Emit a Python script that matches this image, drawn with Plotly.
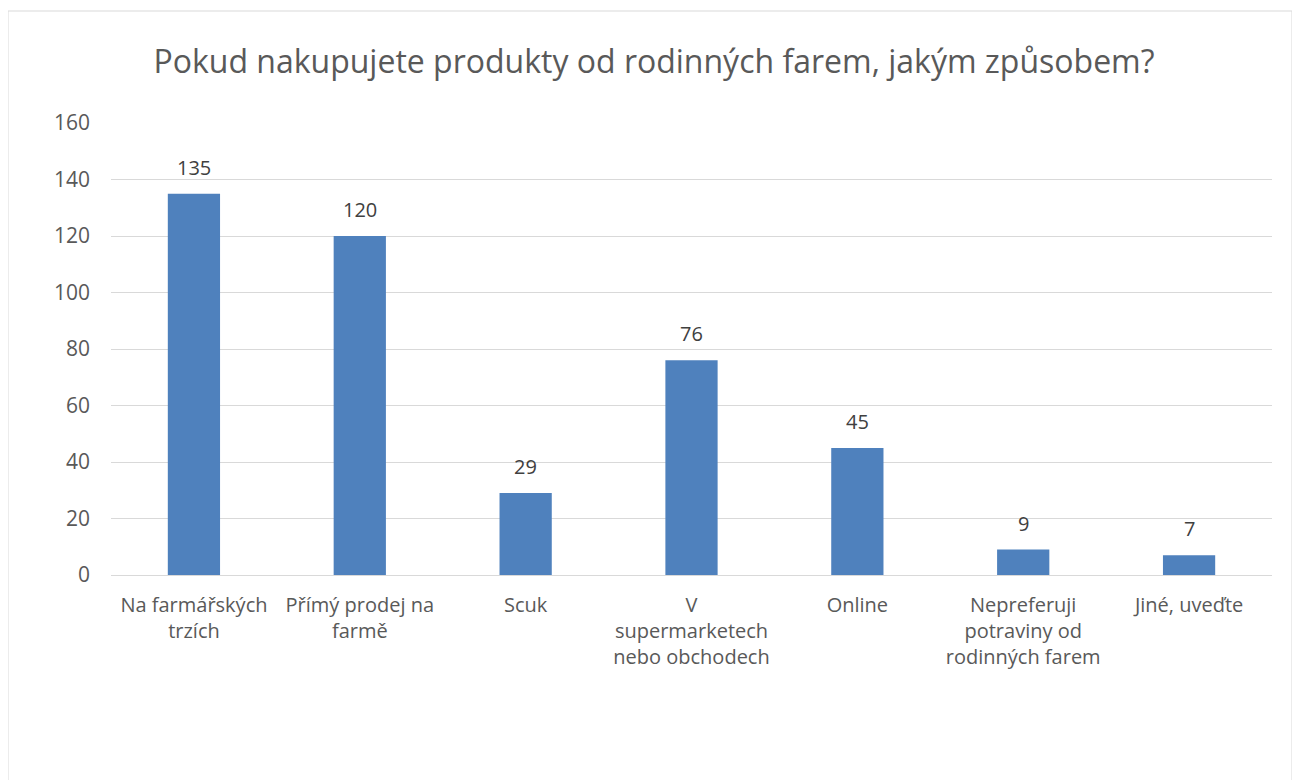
import plotly.graph_objects as go

categories = ["Na farmářských<br>trzích", "Přímý prodej na<br>farmě", "Scuk",
              "V<br>supermarketech<br>nebo obchodech", "Online",
              "Nepreferuji<br>potraviny od<br>rodinných farem", "Jiné, uveďte"]
values = [135, 120, 29, 76, 45, 9, 7]
y_ticks = [0, 20, 40, 60, 80, 100, 120, 140, 160]
title = "Pokud nakupujete produkty od rodinných farem, jakým způsobem?"

FONT = "Open Sans"
OFF = 8  # browser body margin
W, H = 1300 - OFF, 780 - OFF
L, R, T, B = 111 - OFF, 28, 123 - OFF, 205
pw, ph = W - L - R, H - T - B

fig = go.Figure(go.Bar(
    x=categories, y=values,
    marker=dict(color="#4F81BD", line=dict(width=0)),
    cliponaxis=False, hoverinfo="x+y",
))

for c, v in zip(categories, values):
    fig.add_annotation(x=c, y=v, text=str(v), showarrow=False, yanchor="bottom",
                       yshift=11, font=dict(family=FONT, size=20, color="#404040"))

fig.update_layout(
    width=W, height=H, autosize=False,
    margin=dict(l=L, r=R, t=T, b=B),
    paper_bgcolor="white", plot_bgcolor="white",
    bargap=0.685, showlegend=False,
    title=dict(text=title, x=0.5, xanchor="center", y=1 - (62 - OFF) / H, yanchor="middle",
               font=dict(family=FONT, size=32, color="#595959")),
    font=dict(family=FONT, color="#595959"),
)
fig.update_yaxes(range=[0, 160], tickvals=y_ticks, showgrid=True, gridcolor="#D9D9D9",
                 gridwidth=1, zeroline=False, showline=False, ticks="",
                 tickfont=dict(family=FONT, size=21, color="#595959"), ticklabelstandoff=20)
fig.update_xaxes(showline=True, linecolor="#D9D9D9", linewidth=1, ticks="",
                 tickfont=dict(family=FONT, size=20, color="#595959"), ticklabelstandoff=12,
                 tickangle=0)

# chart border
fig.add_shape(type="rect", xref="paper", yref="paper",
              x0=(8 - OFF - L) / pw, x1=(1292 - OFF - L) / pw,
              y0=-(H + 5 - T - ph) / ph, y1=1 + (T - (11 - OFF)) / ph,
              line=dict(color="#D9D9D9", width=1), fillcolor="rgba(0,0,0,0)", layer="below")

fig.write_html("out.html")
